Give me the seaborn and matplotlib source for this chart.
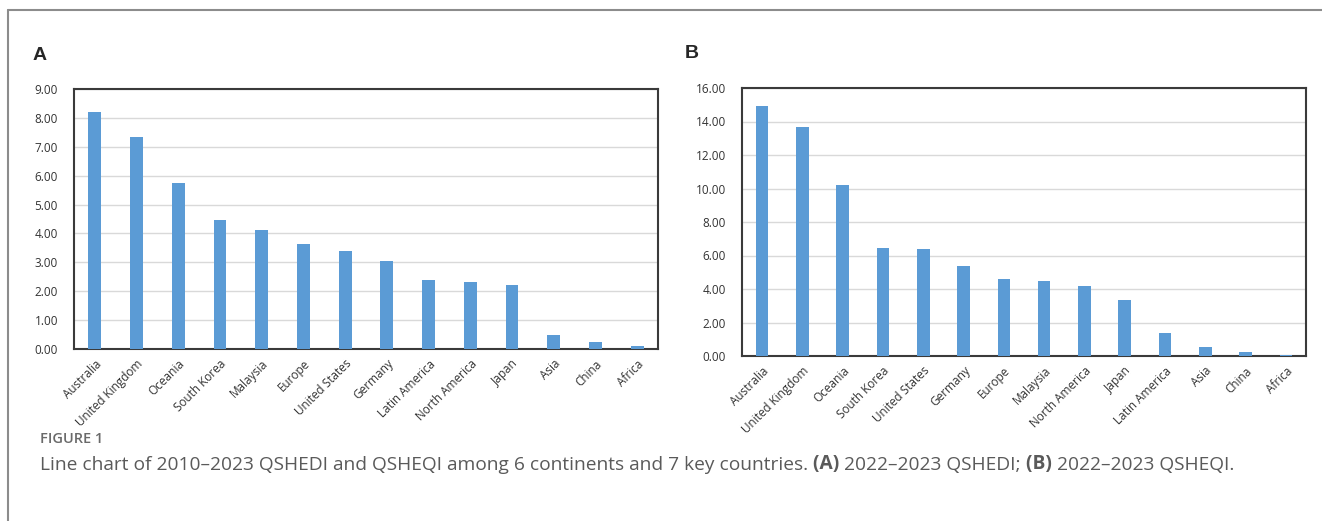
import matplotlib
matplotlib.use("Agg")
import matplotlib.pyplot as plt
from matplotlib.lines import Line2D
from matplotlib.ticker import MultipleLocator, FormatStrFormatter
import seaborn as sns
import pandas as pd

# panel A: 2022-2023 QSHEDI
regions_a = ["Australia", "United Kingdom", "Oceania", "South Korea", "Malaysia", "Europe",
             "United States", "Germany", "Latin America", "North America", "Japan", "Asia",
             "China", "Africa"]
values_a = [8.20, 7.35, 5.75, 4.48, 4.12, 3.62, 3.38, 3.06, 2.38, 2.32, 2.22, 0.50, 0.25, 0.10]

# panel B: 2022-2023 QSHEQI
regions_b = ["Australia", "United Kingdom", "Oceania", "South Korea", "United States", "Germany",
             "Europe", "Malaysia", "North America", "Japan", "Latin America", "Asia",
             "China", "Africa"]
values_b = [14.90, 13.70, 10.20, 6.45, 6.38, 5.38, 4.60, 4.45, 4.18, 3.35, 1.40, 0.52, 0.25, 0.05]

W, H = 1322, 521
BAR = "#5B9BD5"
TICK = "#333333"

sns.set_style("white")
plt.rcParams["font.family"] = ["Open Sans", "DejaVu Sans"]

fig = plt.figure(figsize=(W / 100, H / 100), dpi=100)


def box(l, t, r, b):
    return [l / W, (H - b) / H, (r - l) / W, (b - t) / H]


def panel(rect, regions, values, ymax, step):
    ax = fig.add_axes(rect)
    df = pd.DataFrame({"Region": regions, "Value": values})
    sns.barplot(data=df, x="Region", y="Value", color=BAR, width=0.31,
                saturation=1, linewidth=0, ax=ax, zorder=3)
    ax.set_ylim(0, ymax)
    ax.set_xlim(-0.5, len(regions) - 0.5)
    ax.yaxis.set_major_locator(MultipleLocator(step))
    ax.yaxis.set_major_formatter(FormatStrFormatter("%.2f"))
    ax.grid(axis="y", color="#d9d9d9", linewidth=1, zorder=0)
    ax.set_xlabel("")
    ax.set_ylabel("")
    ax.tick_params(axis="both", length=0, labelsize=8.5, colors=TICK)
    ax.tick_params(axis="y", pad=11.5)
    ax.tick_params(axis="x", pad=6)
    for lab in ax.get_xticklabels():
        lab.set_rotation(45)
        lab.set_ha("right")
        lab.set_rotation_mode("anchor")
    for sp in ax.spines.values():
        sp.set_visible(True)
        sp.set_color("#3a3a3a")
        sp.set_linewidth(1.5)
    return ax


panel(box(74, 89, 658, 349), regions_a, values_a, 9, 1)
panel(box(742, 88, 1306, 356), regions_b, values_b, 16, 2)

fig.text(33 / W, 1 - 55 / H, "A", fontsize=14, fontweight="bold",
         family=["Liberation Sans"], va="center")
fig.text(685 / W, 1 - 53 / H, "B", fontsize=14, fontweight="bold",
         family=["Liberation Sans"], va="center")

# outer frame (top and left edges only)
fig.add_artist(Line2D([8 / W, 1], [1 - 10 / H, 1 - 10 / H], color="#8c8c8c", lw=1.5))
fig.add_artist(Line2D([8 / W, 8 / W], [0, 1 - 10 / H], color="#8c8c8c", lw=1.5))

# caption
fig.text(40 / W, 1 - 439 / H, "FIGURE 1", fontsize=10.5, color="#6a6a6a",
         fontweight="semibold", va="center")
cap = fig.add_axes([0, 0, 1, 1])
cap.set_axis_off()
pieces = [
    ("Line chart of 2010\u20132023 QSHEDI and QSHEQI among 6 continents and 7 key countries.", "normal"),
    (" (A)", "bold"),
    (" 2022\u20132023 QSHEDI;", "normal"),
    (" (B)", "bold"),
    (" 2022\u20132023 QSHEQI.", "normal"),
]
prev = None
for txt, wt in pieces:
    if prev is None:
        prev = cap.annotate(txt, xy=(40 / W, 1 - 465 / H), xycoords="figure fraction",
                            fontsize=13.8, color="#5a5a5a", fontweight=wt, va="center")
    else:
        prev = cap.annotate(txt, xy=(1, 0), xycoords=prev, fontsize=13.8,
                            color="#5a5a5a", fontweight=wt, va="bottom")

fig.savefig("out.png", dpi=100)
